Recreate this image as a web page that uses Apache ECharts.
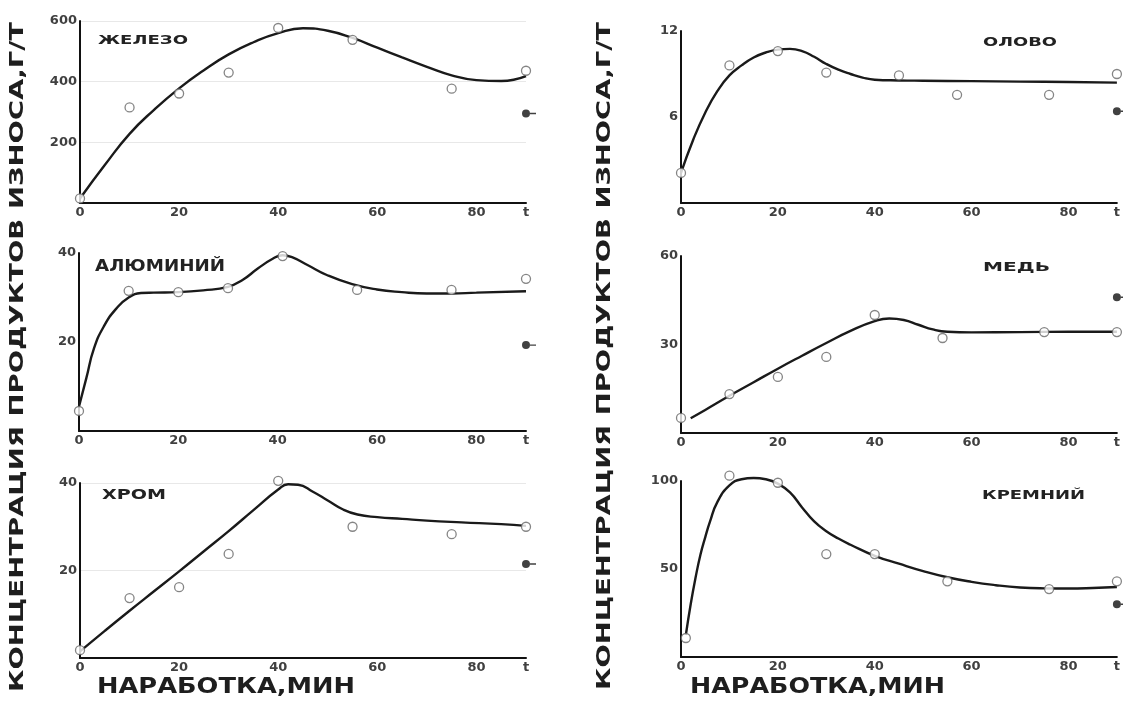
<!DOCTYPE html>
<html><head><meta charset="utf-8">
<script src="https://cdn.jsdelivr.net/npm/echarts@6/dist/echarts.min.js"></script>
<style>html,body{margin:0;padding:0;background:#fff}#c{width:1123px;height:701px}</style>
</head><body><div id="c"></div>
<script>
// ---------- DATA ----------
const xMax = 90;                 // end of time axis, labelled "t"
const xTickStep = 20;            // 0, 20, 40, 60, 80
const xEndLabel = 't';
const yAxisTitle = 'КОНЦЕНТРАЦИЯ ПРОДУКТОВ ИЗНОСА,Г/Т';
const xAxisTitle = 'НАРАБОТКА,МИН';
const panelNames = ['ЖЕЛЕЗО', 'ОЛОВО', 'АЛЮМИНИЙ', 'МЕДЬ', 'ХРОМ', 'КРЕМНИЙ'];
const yMaxes = [600, 12, 40, 60, 40, 100];
const ySteps = [200, 6, 20, 30, 20, 50];

// Железо
const ironT = [0, 10, 20, 30, 40, 55, 75, 90];
const ironC = [15, 315, 361, 430, 577, 538, 377, 436];
const ironFitT = [0, 5, 10, 15, 20, 25, 30, 35, 40, 45, 50, 55, 60, 65, 70, 75, 80, 85, 90];
const ironFitC = [15, 125, 228, 308, 378, 438, 490, 530, 560, 576, 568, 544, 512, 480, 449, 421, 405, 402, 418];
const ironFinal = 295;
// Олово
const tinT = [0, 10, 20, 30, 45, 57, 76, 90];
const tinC = [2.1, 9.6, 10.6, 9.1, 8.9, 7.55, 7.55, 9.0];
const tinFitT = [0, 2.5, 5, 7.5, 10, 12.5, 15, 17.5, 20, 22.5, 25, 27.5, 30, 32.5, 35, 37.5, 40, 45, 50, 60, 70, 80, 90];
const tinFitC = [2.1, 4.4, 6.3, 7.8, 8.9, 9.6, 10.15, 10.5, 10.7, 10.75, 10.6, 10.2, 9.7, 9.3, 9.0, 8.75, 8.6, 8.55, 8.53, 8.5, 8.47, 8.44, 8.4];
const tinFinal = 6.4;
// Алюминий
const alT = [0, 10, 20, 30, 41, 56, 75, 90];
const alC = [4.5, 31.5, 31.2, 32.1, 39.3, 31.7, 31.7, 34.2];
const alFitT = [0, 1.5, 3, 5, 7.5, 10, 12.5, 15, 20, 25, 30, 33, 36, 39, 41, 43, 46, 50, 55, 60, 65, 70, 75, 80, 90];
const alFitC = [5.5, 12, 18.5, 23.5, 27.5, 30, 31, 31.1, 31.2, 31.6, 32.4, 34, 36.5, 38.7, 39.5, 39, 37.3, 35, 33, 31.8, 31.2, 30.9, 30.9, 31.1, 31.4];
const alFinal = 19.3;
// Медь
const cuT = [0, 10, 20, 30, 40, 54, 75, 90];
const cuC = [5.1, 13.2, 19, 25.8, 40, 32.2, 34.2, 34.2];
const cuFitT = [2, 5, 10, 15, 20, 25, 30, 35, 40, 43, 46, 49, 52, 55, 60, 70, 80, 90];
const cuFitC = [5, 7.8, 12.6, 17.2, 21.8, 26.2, 30.5, 34.6, 37.9, 38.8, 38.3, 36.7, 35.1, 34.3, 34.1, 34.2, 34.3, 34.3];
const cuFinal = 46;
// Хром
const crT = [0, 10, 20, 30, 40, 55, 75, 90];
const crC = [1.8, 13.7, 16.2, 23.8, 40.5, 30, 28.3, 30];
const crFitT = [0, 5, 10, 15, 20, 25, 30, 35, 40, 42, 44, 47, 50, 53, 56, 60, 65, 70, 77, 85, 90];
const crFitC = [1.5, 6.2, 10.8, 15.3, 19.8, 24.4, 29, 33.8, 38.5, 39.7, 39.6, 38, 36, 34, 32.8, 32.2, 31.8, 31.4, 31, 30.6, 30.2];
const crFinal = 21.5;
// Кремний
const siT = [1, 10, 20, 30, 40, 55, 76, 90];
const siC = [10.8, 103, 99, 58.5, 58.5, 43, 38.6, 43];
const siFitT = [1, 2, 3, 4, 5, 6, 7.5, 10, 12.5, 15, 17.5, 20, 22.5, 25, 27.5, 30, 32.5, 35, 40, 45, 50, 55, 60, 65, 70, 75, 80, 85, 90];
const siFitC = [12.5, 30, 45, 58, 68, 77, 88, 97.5, 101, 101.7, 101, 98.5, 93.5, 85, 77, 71.5, 67.3, 63.8, 57.5, 53, 48.8, 45.3, 42.7, 40.8, 39.5, 39, 38.9, 39.2, 39.8];
const siFinal = 30;

// ---------- LAYOUT ----------
const zip = (a, b) => a.map((v, i) => [v, b[i]]);
const panels = [
  {pts: zip(ironT, ironC), fit: zip(ironFitT, ironFitC), fin: ironFinal},
  {pts: zip(tinT, tinC), fit: zip(tinFitT, tinFitC), fin: tinFinal},
  {pts: zip(alT, alC), fit: zip(alFitT, alFitC), fin: alFinal},
  {pts: zip(cuT, cuC), fit: zip(cuFitT, cuFitC), fin: cuFinal},
  {pts: zip(crT, crC), fit: zip(crFitT, crFitC), fin: crFinal},
  {pts: zip(siT, siC), fit: zip(siFitT, siFitC), fin: siFinal}
];
const layout = [
  {left: 80, top: 21, w: 446, h: 182, tx: 98, ty: 41, tw: 90, fs: 12, grid: true},
  {left: 681, top: 31, w: 439, h: 172, tx: 983, ty: 43, tw: 74, fs: 12},
  {left: 79, top: 253, w: 447, h: 178, tx: 95, ty: 267, tw: 130, fs: 15},
  {left: 681, top: 256, w: 439, h: 177, tx: 983, ty: 268, tw: 67, fs: 13},
  {left: 80, top: 483, w: 446, h: 175, tx: 102, ty: 495, tw: 64, fs: 14, grid: true},
  {left: 681, top: 481, w: 439, h: 176, tx: 982, ty: 496, tw: 103, fs: 13}
];

const FONT = '"DejaVu Sans", "Liberation Sans", sans-serif';
const ctx = document.createElement('canvas').getContext('2d');
function fitScale(text, size, target) {
  ctx.font = 'bold ' + size + 'px ' + FONT;
  return target / ctx.measureText(text).width;
}

const dotPath = 'path://M0,4 A4,4 0 1,1 8,4 A4,4 0 1,1 0,4 Z M8,3.3 L14,3.3 L14,4.7 L8,4.7 Z';
const tickLabel = {fontFamily: FONT, fontWeight: 'bold', fontSize: 13, color: '#404040'};

const grid = [], xAxis = [], yAxis = [], series = [], graphic = [];
panels.forEach((p, i) => {
  const L = layout[i];
  grid.push({left: L.left, top: L.top, width: L.w, height: L.h});
  xAxis.push({
    gridIndex: i, type: 'value', min: 0, max: xMax, interval: xTickStep,
    axisLine: {show: true, lineStyle: {color: '#111', width: 2}},
    axisTick: {show: false},
    splitLine: {show: false},
    axisLabel: Object.assign({margin: 3, showMaxLabel: true,
      formatter: v => (v === xMax ? xEndLabel : String(v))}, tickLabel)
  });
  yAxis.push({
    gridIndex: i, type: 'value', min: 0, max: yMaxes[i], interval: ySteps[i],
    axisLine: {show: true, lineStyle: {color: '#111', width: 2}},
    axisTick: {show: false},
    splitLine: {show: !!L.grid, lineStyle: {color: '#e8e8e8', width: 1}},
    axisLabel: Object.assign({margin: 3, showMinLabel: false,
      formatter: v => (v === 0 ? '' : String(v))}, tickLabel)
  });
  series.push({
    type: 'line', xAxisIndex: i, yAxisIndex: i, data: p.fit,
    smooth: 0.5, showSymbol: false, clip: false, silent: true,
    lineStyle: {color: '#1a1a1a', width: 2.4}, z: 2
  });
  series.push({
    type: 'scatter', xAxisIndex: i, yAxisIndex: i, data: p.pts,
    symbol: 'circle', symbolSize: 9, clip: false, z: 3,
    itemStyle: {color: '#fff', borderColor: '#666', borderWidth: 1.3}
  });
  series.push({
    type: 'scatter', xAxisIndex: i, yAxisIndex: i, data: [[xMax, p.fin]],
    symbol: dotPath, symbolSize: [14, 8], symbolOffset: [3, 0], clip: false, z: 3,
    itemStyle: {color: '#111'}
  });
  graphic.push({
    type: 'text', x: L.tx, y: L.ty, scaleX: fitScale(panelNames[i], L.fs, L.tw),
    style: {text: panelNames[i], x: 0, y: 0, fontFamily: FONT, fontWeight: 'bold',
      fontSize: L.fs, fill: '#222', textAlign: 'left', textVerticalAlign: 'middle'}
  });
});

// axis titles
[[18, 357, 670], [605, 356, 668]].forEach(([x, y, len]) => {
  graphic.push({
    type: 'text', x: x, y: y, rotation: Math.PI / 2, scaleX: fitScale(yAxisTitle, 19, len),
    style: {text: yAxisTitle, x: 0, y: 0, fontFamily: FONT, fontWeight: 'bold', fontSize: 19,
      fill: '#1e1e1e', textAlign: 'center', textVerticalAlign: 'middle'}
  });
});
[[97, 688, 258], [690, 688, 255]].forEach(([x, y, len]) => {
  graphic.push({
    type: 'text', x: x, y: y, scaleX: fitScale(xAxisTitle, 21, len),
    style: {text: xAxisTitle, x: 0, y: 0, fontFamily: FONT, fontWeight: 'bold', fontSize: 21,
      fill: '#1e1e1e', textAlign: 'left', textVerticalAlign: 'middle'}
  });
});

const chart = echarts.init(document.getElementById('c'), null, {renderer: 'canvas'});
chart.setOption({
  animation: false, backgroundColor: '#fff',
  grid, xAxis, yAxis, series, graphic
});
</script>
</body></html>
